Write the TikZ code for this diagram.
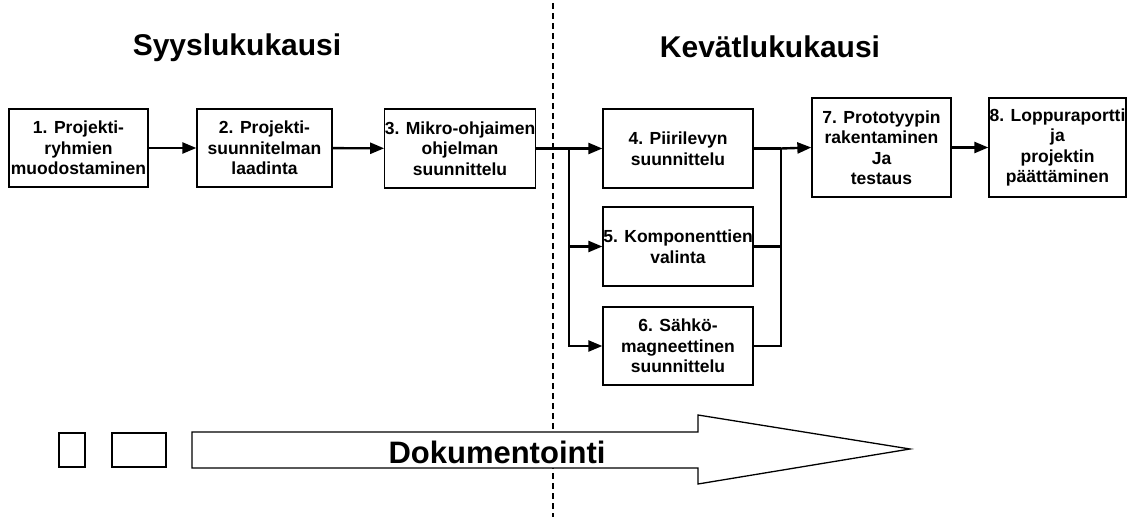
\documentclass[tikz,border=0pt]{standalone}
\usepackage{fontspec}
\setmainfont{Liberation Sans}
\usetikzlibrary{arrows.meta,positioning,calc}

\begin{document}
\begin{tikzpicture}[x=1pt, y=-1pt,
    phasebox/.style={rectangle, draw=black, line width=1.3pt, fill=white, align=center, inner sep=0pt,
      font=\bfseries\fontsize{17.5}{20.5}\selectfont},
    flow/.style={line width=2.4pt, -{Triangle[length=14pt,width=11pt]}},
    joinline/.style={line width=2.4pt},
    termtitle/.style={font=\bfseries\fontsize{30}{36}\selectfont, inner sep=0pt}
  ]
    \useasboundingbox (0,0) rectangle (1128,521);

    % semester border
    \coordinate (divtop) at (553,3);
    \coordinate (divbot) at (553,517);
    \draw[line width=1.4pt, dash pattern=on 6pt off 4pt] (divtop) -- (divbot);

    \node[termtitle] (autumn) at (237,48) {Syyslukukausi};
    \node[termtitle] (spring) at (770,47) {Kevätlukukausi};

    % documentation arrow
    \draw[line width=1.3pt, fill=white] (192,432) -- (698,432) -- (698,415) -- (910,449)
      -- (698,484) -- (698,468) -- (192,468) -- cycle;
    \node[font=\bfseries\fontsize{31}{36}\selectfont, inner sep=0pt] (doc) at (497,452) {Dokumentointi};
    \node[phasebox, minimum width=26pt, minimum height=34pt] (docA) at (72,450) {};
    \node[phasebox, minimum width=54pt, minimum height=34pt] (docB) at (139,450) {};

    % phases
    \node[phasebox, minimum width=139pt, minimum height=78pt] (b1) at (78.5,148) {1. Projekti-\\ryhmien\\muodostaminen};
    \node[phasebox, minimum width=135pt, minimum height=78pt] (b2) at (264.5,148) {2. Projekti-\\suunnitelman\\laadinta};
    \node[phasebox, minimum width=149pt, minimum height=79pt] (b3) at (460,148.5) {3. Mikro-ohjaimen\\ohjelman\\suunnittelu};
    \node[phasebox, minimum width=150pt, minimum height=79pt] (b4) at (678,148.5) {4. Piirilevyn\\suunnittelu};
    \node[phasebox, minimum width=150pt, minimum height=79pt] (b5) at (678,246.5) {5. Komponenttien\\valinta};
    \node[phasebox, minimum width=150pt, minimum height=78pt] (b6) at (678,346) {6. Sähkö-\\magneettinen\\suunnittelu};
    \node[phasebox, minimum width=139pt, minimum height=99pt] (b7) at (881.5,147.5) {7. Prototyypin\\rakentaminen\\Ja\\testaus};
    \node[phasebox, minimum width=137pt, minimum height=99pt] (b8) at (1057.5,147.5) {8. Loppuraportti\\ja\\projektin\\päättäminen};

    \coordinate (split) at (569,148.5);
    \coordinate (merge) at (781,148.5);

    \draw[flow] (b1) -- (b2);
    \draw[flow] (b2) -- (b3);
    \draw[joinline] (b3.east) -- (split);
    \draw[flow] (split) -- (b4.west);
    \draw[flow] (split) |- (b5.west);
    \draw[flow] (split) |- (b6.west);
    \draw[joinline] (b4.east) -- (merge);
    \draw[joinline] (b5.east) -- (b5.east -| merge);
    \draw[joinline] (b6.east) -| (merge);
    \draw[flow] (merge) -- (b7.west);
    \draw[flow] (b7.east |- b8.west) -- (b8.west);
  \end{tikzpicture}
\end{document}
